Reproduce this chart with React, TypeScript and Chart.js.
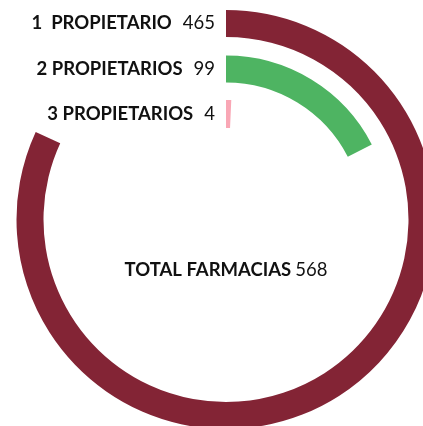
import React, { useEffect, useRef } from "react";
import { Chart, registerables } from "chart.js";

Chart.register(...registerables);

const categories = ["1  PROPIETARIO", "2 PROPIETARIOS", "3 PROPIETARIOS"];
const values = [465, 99, 4];
const total = 568;
const totalLabel = "TOTAL FARMACIAS";
const colors = ["#832435", "#4eb462", "#f9a7b5"];
const ringWeights = [27, 27, 28];
const gapWeights = [18.5, 17.5];

const FONT = "Lato";
const SIZE = 18.5;

const labelPlugin = {
  id: "ringLabels",
  afterDatasetsDraw(chart: any) {
    const ctx = chart.ctx;
    ctx.save();
    ctx.textBaseline = "middle";
    let cx = 0;
    let cy = 0;
    chart.data.datasets.forEach((ds: any, i: number) => {
      if (ds.catIndex === undefined) return;
      const arc = chart.getDatasetMeta(i).data[0];
      if (!arc) return;
      cx = arc.x;
      cy = arc.y;
      const mid = arc.y - (arc.outerRadius + arc.innerRadius) / 2;
      const numRight = arc.x - 11;
      ctx.textAlign = "right";
      ctx.fillStyle = "#111";
      ctx.font = `400 ${SIZE}px ${FONT}`;
      const numStr = String(values[ds.catIndex]);
      ctx.fillText(numStr, numRight, mid);
      const nw = ctx.measureText(numStr).width;
      ctx.font = `700 ${SIZE}px ${FONT}`;
      ctx.fillText(categories[ds.catIndex], numRight - nw - 11, mid);
    });
    // center total
    ctx.font = `700 ${SIZE}px ${FONT}`;
    const bw = ctx.measureText(totalLabel).width + 4;
    ctx.font = `400 ${SIZE}px ${FONT}`;
    const nStr = String(total);
    const tw = ctx.measureText(nStr).width;
    const startX = cx - (bw + tw) / 2;
    const ty = cy + 51;
    ctx.textAlign = "left";
    ctx.font = `700 ${SIZE}px ${FONT}`;
    ctx.fillText(totalLabel, startX, ty);
    ctx.font = `400 ${SIZE}px ${FONT}`;
    ctx.fillText(nStr, startX + bw, ty);
    ctx.restore();
  },
};

export default function App() {
  const ref = useRef<HTMLCanvasElement>(null);
  useEffect(() => {
    if (!ref.current) return;
    const datasets: any[] = [];
    values.forEach((v, i) => {
      datasets.push({
        data: [v, total - v],
        backgroundColor: [colors[i], "rgba(0,0,0,0)"],
        borderWidth: 0,
        weight: ringWeights[i],
        catIndex: i,
      });
      if (i < gapWeights.length) {
        datasets.push({
          data: [1],
          backgroundColor: ["rgba(0,0,0,0)"],
          borderWidth: 0,
          weight: gapWeights[i],
        });
      }
    });
    const chart = new Chart(ref.current, {
      type: "doughnut",
      data: { labels: ["a", "b"], datasets },
      options: {
        responsive: false,
        animation: false,
        devicePixelRatio: 1,
        cutout: 91.5,
        layout: { padding: 10 },
        events: [],
        plugins: { legend: { display: false }, tooltip: { enabled: false } },
      },
      plugins: [labelPlugin],
    });
    return () => chart.destroy();
  }, []);
  return (
    <div
      style={{
        position: "fixed",
        left: 0,
        top: 0,
        width: 423,
        height: 426,
        overflow: "hidden",
        background: "#fff",
      }}
    >
      <canvas ref={ref} width={452} height={439} style={{ display: "block" }} />
    </div>
  );
}
